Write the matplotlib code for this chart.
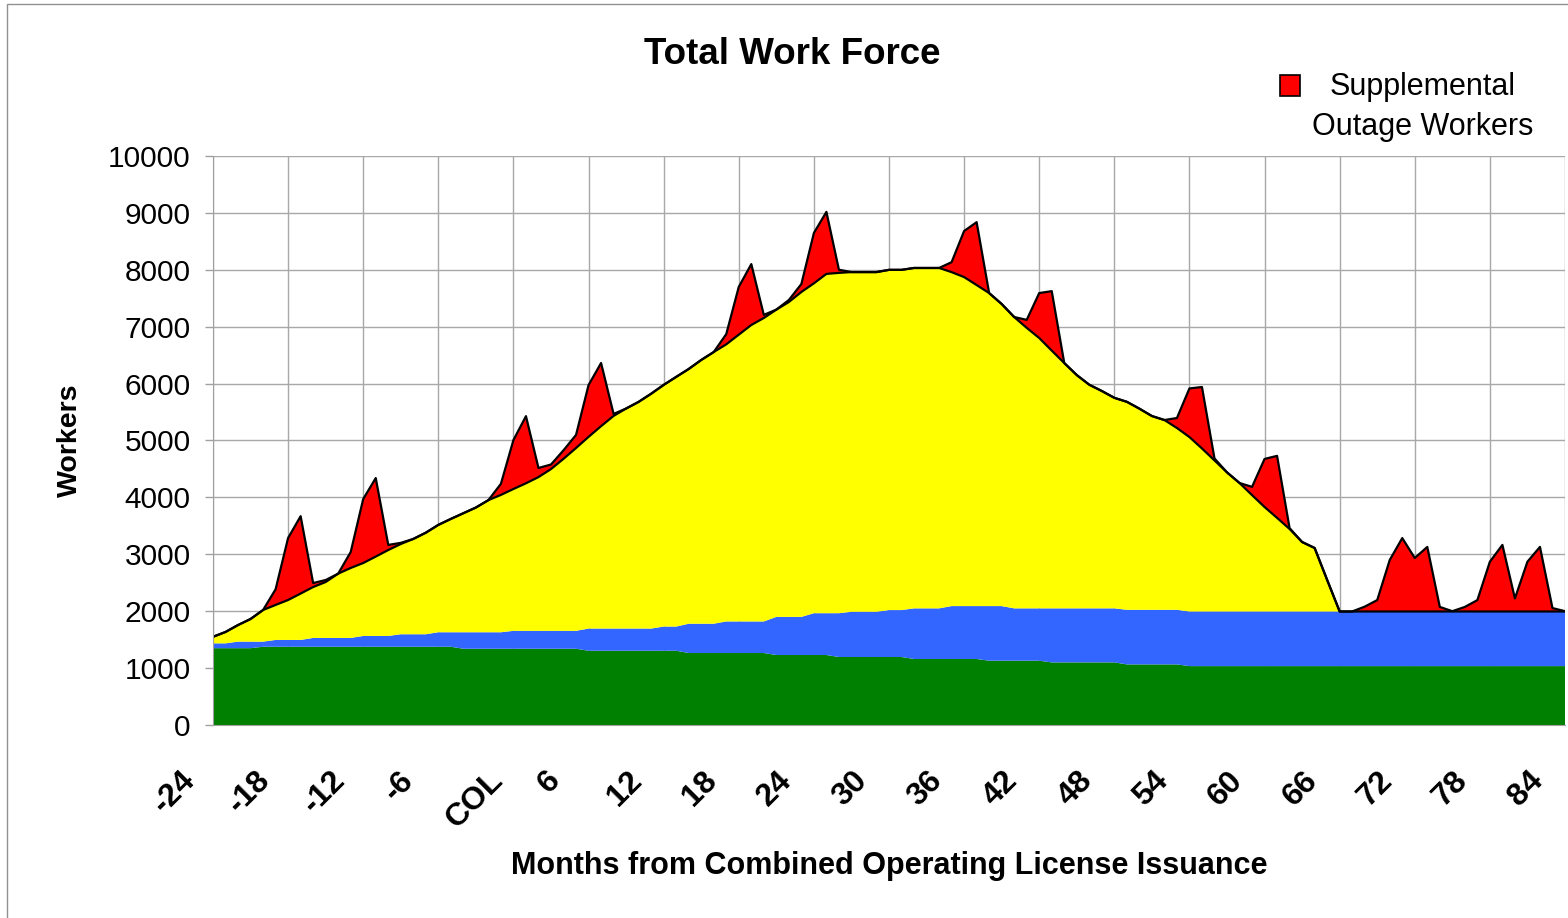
import matplotlib
matplotlib.use("Agg")
import matplotlib.pyplot as plt
import matplotlib.transforms as mtransforms
from matplotlib.patches import Rectangle
import numpy as np

plt.rcParams['font.family'] = ['Liberation Sans', 'DejaVu Sans']

# months from COL issuance, one point per month
months = list(range(-24, 85))
tick_months = list(range(-24, 85, 6))
tick_labels = [("COL" if m == 0 else str(m)) for m in tick_months]

# bottom layer (green)
green = ([1350] * 4 + [1375] * 16 + [1340] * 10 + [1305] * 8 + [1265] * 7 +
         [1230] * 5 + [1195] * 6 + [1160] * 6 + [1130] * 5 + [1100] * 6 +
         [1065] * 5 + [1035] * 31)

# second layer (blue)
blue = ([85] * 2 + [115] * 2 + [90] + [120] * 3 + [155] * 4 + [190] * 3 +
        [220] * 3 + [255] * 2 + [290] * 4 + [315] * 6 + [390] * 6 + [425] * 2 +
        [515] * 3 + [555] * 4 + [670] * 3 + [735] * 2 + [770] + [795] * 3 +
        [825] * 2 + [890] * 3 + [930] * 3 + [960] * 2 + [920] * 3 + [950] * 6 +
        [960] * 5 + [960] * 31)

# construction layer (yellow)
yellow = [115, 200, 292, 398, 556, 615, 702, 815, 895, 983,          # -24..-15
          1130, 1230, 1282, 1395, 1510, 1586, 1675, 1785, 1887, 1992,  # -14..-5
          2092, 2192, 2322, 2414, 2493, 2593, 2702, 2843, 3023, 3213,  # -4..5
          3369, 3557, 3737, 3867, 3984, 4127, 4247, 4388, 4477, 4635,  # 6..15
          4775, 4870, 5040, 5210, 5333, 5400, 5534, 5710, 5797, 5963,  # 16..25
          5981, 5970, 5970, 5970, 5979, 5979, 5982, 5982, 5982, 5869,  # 26..35
          5782, 5642, 5501, 5309, 5120, 4930, 4751, 4530, 4312, 4100,  # 36..45
          3930, 3820, 3700, 3655, 3535, 3405, 3335, 3195, 3065, 2865,  # 46..55
          2655, 2445, 2258, 2045, 1836, 1645, 1450, 1221, 1116, 555,   # 56..65
          ] + [0] * 19                                                  # 66..84

# supplemental outage workers (red)
red = ([0] * 5 + [275, 1090, 1360, 70, 35] + [0] +
       [280, 1125, 1380, 90, 20] + [0] * 7 +
       [195, 860, 1180, 160, 80, 150, 230, 910, 1110, 35] + [0] * 8 +
       [180, 840, 1070, 55] + [0] + [35, 140, 885, 1090, 55] + [0] * 8 +
       [175, 810, 1105] + [0] * 3 + [140, 790, 1045] + [0] * 9 +
       [175, 855, 1080, 35] + [0] * 2 + [145, 845, 1090, 15] + [0] * 5 +
       [85, 200, 905, 1290, 940, 1135, 80, 5, 80, 200, 875, 1170, 230,
        875, 1135, 60, 5])

fig = plt.figure(figsize=(15.68, 9.18), dpi=100)
ax = fig.add_axes([213 / 1568, 1 - 725 / 918, (1565 - 213) / 1568, (725 - 156) / 918])

ax.stackplot(months, green, blue, yellow, red,
             colors=['#008000', '#3366FF', '#FFFF00', '#FF0000'], lw=0)

# black outlines on the construction and outage layers
levels = np.cumsum([green, blue, yellow, red], axis=0)
ax.plot(months, levels[2], c='black', lw=1.6)
ax.plot(months, levels[3], c='black', lw=1.6)

ax.set_xlim(-24, 84)
ax.set_ylim(0, 10000)
ax.set_yticks(range(0, 10001, 1000))
ax.set_xticks(tick_months)
ax.set_xticklabels(tick_labels, rotation=45, ha='center', fontsize=23,
                   fontweight='bold')
ax.tick_params(axis='x', length=0, pad=29)
ax.tick_params(axis='y', length=6, width=1, color='#a0a0a0', pad=10,
               labelsize=21.5)
shift = mtransforms.ScaledTranslation(-0.39, 0, fig.dpi_scale_trans)
for lab in ax.get_xticklabels():
    lab.set_transform(lab.get_transform() + shift)

ax.grid(True, color='#a8a8a8', lw=1)
ax.set_axisbelow(True)
for s in ['top', 'right']:
    ax.spines[s].set_visible(False)
for s in ['left', 'bottom']:
    ax.spines[s].set_color('#a0a0a0')

ax.set_ylabel("Workers", fontsize=20.5, fontweight='bold', labelpad=18)
ax.set_xlabel("Months from Combined Operating License Issuance",
              fontsize=22, fontweight='bold', labelpad=12)
fig.text(0.505, 1 - 54 / 918, "Total Work Force", fontsize=26.5,
         fontweight='bold', ha='center', va='center')

# legend
fig.add_artist(Rectangle((1280 / 1568, 1 - 96 / 918), 20 / 1568, 21 / 918,
                         transform=fig.transFigure, fc='#FF0000', ec='black',
                         lw=1.2))
fig.text(1423 / 1568, 1 - 107 / 918, "Supplemental\nOutage Workers",
         fontsize=22, ha='center', va='center', multialignment='center',
         linespacing=1.45)

# outer frame
fig.add_artist(Rectangle((7 / 1568, -0.1), 1.2, 1.1 - 4 / 918,
                         transform=fig.transFigure, fill=False,
                         ec='#909090', lw=1))

fig.savefig('out.png', dpi=100)
